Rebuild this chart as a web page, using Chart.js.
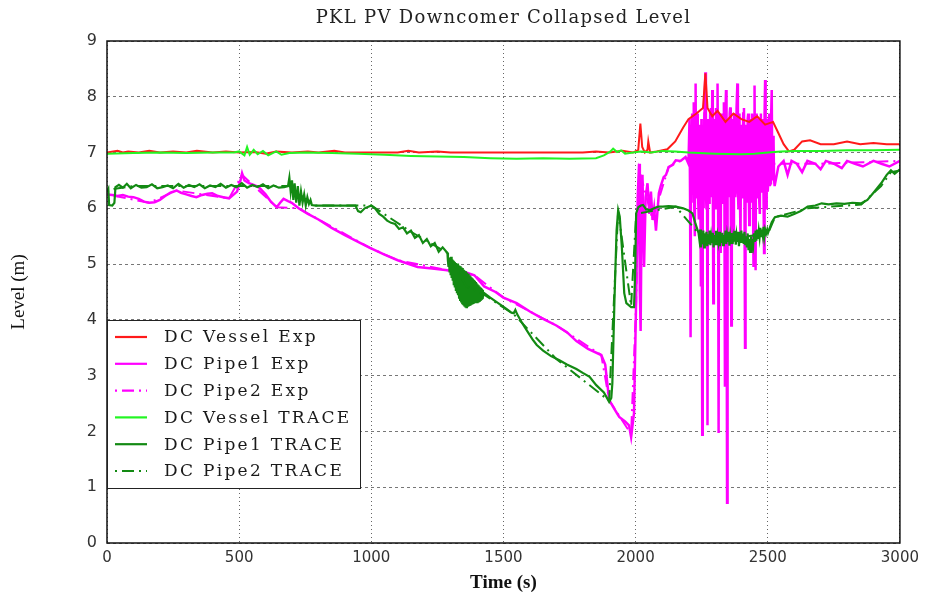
<!DOCTYPE html>
<html>
<head>
<meta charset="utf-8">
<title>PKL PV Downcomer Collapsed Level</title>
<script src="https://cdn.jsdelivr.net/npm/chart.js@4.4.1/dist/chart.umd.min.js"></script>
<style>
  html, body { margin: 0; padding: 0; background: #fff; }
</style>
</head>
<body>
<canvas id="levelChart" width="925" height="595"></canvas>
<script>
// [time (s), level (m)]
const vesselExp = [
  [0,7.0],[40,7.03],[60,7.0],[80,7.02],[120,7.0],[160,7.03],[200,7.0],[250,7.02],[300,7.0],[340,7.03],
  [400,7.0],[450,7.02],[500,7.0],[560,7.01],[600,6.98],[640,7.02],[700,7.0],[760,7.02],[800,7.0],[860,7.03],
  [900,7.0],[1000,7.0],[1100,7.0],[1140,7.03],[1180,7.0],[1250,7.02],[1300,7.0],[1400,7.0],[1500,7.0],
  [1600,7.0],[1700,7.0],[1800,7.0],[1850,7.02],[1900,7.0],[1950,7.03],[1990,7.0],[2010,7.05],[2018,7.52],
  [2025,7.1],[2035,7.0],[2045,7.05],[2048,7.2],[2055,7.0],[2080,7.02],[2120,7.06],[2150,7.2],[2180,7.45],
  [2200,7.6],[2230,7.7],[2255,7.8],[2264,8.42],[2272,7.8],[2290,7.65],[2310,7.75],[2340,7.55],[2370,7.7],
  [2400,7.6],[2430,7.55],[2460,7.65],[2490,7.5],[2520,7.55],[2540,7.35],[2560,7.15],[2580,7.02],[2600,7.05],
  [2630,7.2],[2660,7.22],[2700,7.15],[2750,7.15],[2800,7.2],[2850,7.15],[2900,7.17],[2950,7.15],[3000,7.15]
];

const pipe1Exp = [
  [0,6.25],[20,6.24],[40,6.22],[60,6.24],[80,6.21],[100,6.2],[120,6.17],[140,6.12],[160,6.1],[180,6.11],
  [200,6.15],[220,6.22],[240,6.28],[263,6.32],[280,6.28],[300,6.25],[320,6.22],[338,6.2],[360,6.24],[380,6.26],
  [398,6.27],[420,6.22],[440,6.2],[462,6.18],[480,6.25],[492,6.3],[505,6.5],[511,6.63],[520,6.5],[537,6.45],
  [555,6.42],[574,6.38],[600,6.25],[620,6.12],[642,6.02],[655,6.1],[668,6.17],[685,6.13],[699,6.1],[725,6.0],
  [760,5.9],[800,5.8],[850,5.65],[900,5.52],[950,5.4],[995,5.29],[1050,5.17],[1100,5.07],[1175,4.95],[1230,4.92],
  [1288,4.89],[1340,4.88],[1390,4.8],[1427,4.6],[1470,4.5],[1500,4.4],[1550,4.3],[1600,4.15],[1650,4.02],
  [1700,3.9],[1740,3.78],[1776,3.62],[1820,3.48],[1870,3.37],[1885,3.2],[1900,2.56],[1920,2.4],[1938,2.26],
  [1960,2.18],[1975,2.11],[1983,1.9],[1994,2.33],[2002,4.35],[2008,6.2],[2013,6.8],[2016,4.5],[2019,3.8],
  [2022,5.5],[2026,6.6],[2032,4.95],[2038,6.2],[2045,6.45],[2052,5.9],[2058,6.3],[2064,5.79],[2070,6.0],
  [2077,5.6],[2082,5.9],[2088,6.27],[2095,6.4],[2106,6.56],[2115,6.6],[2125,6.74],[2140,6.78],[2152,6.86],
  [2170,6.85],[2189,6.92],[2200,6.8],
  [2204,7.6],[2206,6.2],[2208,3.69],[2210,7.5],[2212,6.1],[2214,7.7],[2216,6.3],[2218,7.4],[2220,7.9],[2222,6.0],
  [2224,5.5],[2226,7.8],[2227,8.24],[2229,6.2],[2231,6.4],[2233,7.7],[2235,7.6],[2237,6.1],[2239,5.8],[2241,7.5],
  [2243,7.4],[2245,6.2],[2247,4.6],[2249,7.6],[2250,6.9],[2252,1.94],[2254,7.5],[2255,7.3],[2257,6.0],[2258,6.2],
  [2260,7.7],[2261,7.9],[2264,8.44],[2266,6.3],[2268,6.0],[2270,7.4],[2272,2.11],[2274,7.6],[2276,7.0],[2278,6.1],
  [2280,6.5],[2282,7.7],[2285,7.8],[2287,6.2],[2290,8.12],[2292,6.4],[2294,4.3],[2296,7.6],[2298,7.2],[2300,6.1],
  [2302,6.0],[2304,7.8],[2306,7.6],[2308,6.2],[2310,8.24],[2312,6.5],[2314,1.97],[2316,7.7],[2318,7.4],[2320,6.0],
  [2322,5.2],[2324,7.5],[2326,7.7],[2328,6.1],[2330,6.3],[2332,7.6],[2334,7.9],[2336,6.2],[2338,2.8],[2340,7.7],
  [2342,8.12],[2344,6.0],[2346,0.72],[2348,7.6],[2350,7.5],[2352,6.2],[2354,6.4],[2356,7.7],[2358,7.81],[2360,6.1],
  [2362,3.9],[2364,7.6],[2366,7.3],[2368,6.0],[2370,5.6],[2372,7.7],[2375,7.6],[2377,6.2],[2380,6.5],[2382,7.8],
  [2385,8.24],[2387,6.3],[2389,6.0],[2391,7.6],[2393,7.7],[2395,6.1],[2397,5.4],[2399,7.5],[2401,7.4],[2403,6.2],
  [2405,6.7],[2407,7.7],[2410,7.8],[2412,6.0],[2414,3.5],[2416,7.5],[2418,7.1],[2420,6.1],[2422,6.2],[2424,7.6],
  [2426,7.7],[2428,6.3],[2430,5.7],[2432,7.6],[2434,7.3],[2436,6.1],[2438,6.5],[2440,7.7],[2442,7.6],[2444,6.2],
  [2446,4.95],[2448,7.6],[2450,8.2],[2452,6.3],[2454,4.89],[2456,7.7],[2458,7.5],[2460,6.2],[2462,6.3],[2464,7.6],
  [2466,7.2],[2468,6.1],[2470,5.9],[2472,7.5],[2474,7.7],[2476,6.3],[2478,6.6],[2480,7.6],[2482,7.4],[2484,6.2],
  [2486,5.2],[2488,7.7],[2490,8.3],[2492,6.4],[2494,6.0],[2496,7.6],[2498,7.5],[2500,6.3],[2502,6.5],[2504,7.6],
  [2506,7.7],[2508,6.4],[2510,6.45],[2512,7.5],[2515,8.12],[2517,6.6],[2518,6.5],[2520,7.3],[2522,7.2],[2524,6.5],
  [2526,6.4],[2540,6.75],[2560,6.85],[2575,6.6],[2590,6.85],[2610,6.8],[2630,6.65],[2650,6.85],[2680,6.8],
  [2700,6.7],[2720,6.85],[2750,6.8],[2780,6.72],[2800,6.85],[2830,6.8],[2860,6.75],[2900,6.85],[2930,6.8],
  [2960,6.75],[3000,6.85]
];

const pipe2Exp = [
  [0,6.25],[160,6.1],[263,6.32],[462,6.18],[511,6.6],[642,6.02],[725,6.0],[995,5.29],[1100,5.07],[1288,4.89],
  [1390,4.8],[1500,4.4],[1700,3.9],[1870,3.37],[1900,2.56],[1983,1.95],[2002,4.3],[2013,6.7],[2064,5.8],
  [2125,6.74],[2189,6.9],[2300,6.9],[2400,6.85],[2520,6.8],[2700,6.8],[3000,6.85]
];

const vesselTrace = [
  [0,6.98],[100,6.99],[200,7.0],[300,6.99],[400,7.0],[480,7.0],[500,7.02],[520,6.95],[530,7.1],[540,6.96],
  [555,7.05],[570,6.97],[590,7.03],[610,6.95],[640,7.02],[660,6.96],[690,6.99],[750,7.0],[850,6.99],[950,6.98],
  [1050,6.96],[1150,6.94],[1250,6.93],[1350,6.92],[1450,6.9],[1550,6.89],[1650,6.9],[1750,6.89],[1850,6.9],
  [1880,6.95],[1905,7.02],[1915,7.07],[1930,7.01],[1945,7.04],[1960,6.98],[1990,7.0],[2020,7.02],[2060,7.0],
  [2100,7.03],[2150,7.02],[2200,7.0],[2300,6.98],[2400,6.97],[2450,6.98],[2500,7.0],[2550,7.02],[2600,7.03],
  [2700,7.03],[2800,7.04],[2900,7.04],[3000,7.05]
];

const pipe1Trace = [
  [0,6.3],[5,6.35],[8,6.06],[20,6.05],[28,6.1],[32,6.38],[45,6.42],[60,6.37],[75,6.44],[90,6.36],[110,6.42],
  [130,6.37],[150,6.38],[170,6.43],[190,6.36],[210,6.38],[230,6.41],[250,6.36],[270,6.44],[290,6.37],
  [310,6.42],[330,6.38],[350,6.43],[370,6.36],[390,6.41],[410,6.38],[430,6.44],[450,6.37],[470,6.42],
  [490,6.38],[510,6.45],[530,6.37],[550,6.42],[570,6.38],[590,6.43],[610,6.36],[630,6.41],[650,6.37],
  [670,6.38],[685,6.4],[690,6.55],[695,6.3],[700,6.5],[705,6.15],[710,6.45],[716,6.1],[722,6.4],[728,6.05],
  [734,6.3],[740,6.1],[746,6.25],[752,6.05],[758,6.2],[764,6.08],[770,6.15],[775,6.06],[790,6.05],[850,6.05],
  [940,6.05],[950,5.95],[960,5.93],[975,6.0],[1000,6.05],[1014,6.0],[1030,5.9],[1045,5.85],[1060,5.78],
  [1075,5.74],[1090,5.72],[1105,5.63],[1120,5.66],[1135,5.55],[1150,5.6],[1165,5.47],[1180,5.52],[1195,5.38],
  [1210,5.45],[1225,5.32],[1240,5.38],[1255,5.22],[1270,5.3],[1288,5.2],
  [1290,5.05],[1292,4.95],[1294,5.12],[1296,4.85],[1298,5.1],[1300,4.8],[1302,5.13],[1304,4.75],[1306,5.08],
  [1308,4.7],[1310,5.06],[1312,4.62],[1314,5.04],[1316,4.58],[1318,5.02],[1320,4.52],[1322,5.0],[1324,4.48],
  [1326,5.01],[1328,4.44],[1330,4.98],[1332,4.4],[1334,4.97],[1336,4.36],[1338,4.96],[1340,4.33],[1342,4.94],
  [1344,4.3],[1346,4.93],[1348,4.28],[1350,4.9],[1352,4.26],[1354,4.88],[1356,4.24],[1358,4.87],[1360,4.23],
  [1362,4.85],[1364,4.23],[1366,4.83],[1368,4.24],[1370,4.8],[1372,4.25],[1374,4.78],[1376,4.26],[1378,4.76],
  [1380,4.27],[1382,4.74],[1384,4.28],[1386,4.72],[1388,4.29],[1390,4.7],[1392,4.3],[1394,4.68],[1396,4.31],
  [1398,4.66],[1400,4.32],[1402,4.64],[1404,4.33],[1406,4.62],[1408,4.34],[1410,4.6],[1412,4.36],[1414,4.58],
  [1416,4.38],[1418,4.56],[1420,4.4],[1422,4.54],[1424,4.44],[1427,4.48],
  [1450,4.4],[1480,4.3],[1510,4.2],[1530,4.13],[1539,4.12],[1545,4.18],[1552,4.1],[1570,3.95],[1590,3.8],
  [1610,3.65],[1626,3.55],[1650,3.45],[1680,3.35],[1710,3.28],[1740,3.2],[1776,3.12],[1800,3.05],[1826,2.98],
  [1851,2.83],[1880,2.7],[1900,2.53],[1908,2.6],[1912,2.86],[1920,4.35],[1928,5.6],[1934,5.97],[1940,5.85],
  [1948,5.3],[1957,4.48],[1965,4.3],[1983,4.23],[1994,4.23],[1998,4.8],[2002,5.91],[2010,6.02],[2020,6.05],
  [2028,6.06],[2040,5.98],[2055,5.97],[2070,6.0],[2085,6.03],[2103,6.03],[2125,6.04],[2152,6.03],[2180,6.0],
  [2200,5.96],[2215,5.91],[2225,5.75],[2238,5.56],
  [2241,5.45],[2244,5.62],[2247,5.3],[2250,5.5],[2253,5.36],[2256,5.6],[2259,5.3],[2262,5.55],[2265,5.35],
  [2268,5.58],[2271,5.32],[2274,5.52],[2277,5.36],[2280,5.6],[2283,5.34],[2286,5.5],[2289,5.38],[2292,5.56],
  [2295,5.3],[2298,5.52],[2301,5.36],[2304,5.6],[2307,5.34],[2310,5.5],[2313,5.4],[2316,5.58],[2319,5.32],
  [2322,5.5],[2325,5.38],[2328,5.56],[2331,5.34],[2334,5.52],[2337,5.4],[2340,5.6],[2343,5.36],[2346,5.52],
  [2349,5.4],[2352,5.58],[2355,5.33],[2358,5.5],[2361,5.38],[2364,5.56],[2367,5.36],[2370,5.5],[2373,5.42],
  [2376,5.6],[2379,5.35],[2382,5.52],[2385,5.4],[2388,5.58],[2391,5.32],[2394,5.5],[2397,5.38],[2400,5.6],
  [2403,5.4],[2406,5.55],[2409,5.36],[2412,5.58],[2415,5.34],[2418,5.5],[2421,5.3],[2424,5.55],[2427,5.25],
  [2430,5.45],[2433,5.22],[2436,5.5],[2439,5.2],[2442,5.45],[2445,5.35],[2448,5.55],[2451,5.4],[2454,5.6],
  [2457,5.42],[2460,5.62],[2463,5.45],[2466,5.6],[2469,5.48],[2472,5.65],[2475,5.5],[2478,5.62],[2481,5.52],
  [2484,5.67],[2487,5.5],[2490,5.62],[2494,5.55],[2498,5.62],[2501,5.56],
  [2515,5.75],[2527,5.84],[2550,5.87],[2575,5.85],[2600,5.9],[2625,5.95],[2651,6.03],[2680,6.05],[2704,6.09],
  [2730,6.07],[2760,6.09],[2790,6.08],[2820,6.1],[2854,6.09],[2877,6.15],[2900,6.28],[2929,6.45],[2950,6.6],
  [2966,6.68],[2980,6.62],[3000,6.7]
];

const pipe2Trace = [
  [0,6.3],[30,6.35],[100,6.4],[300,6.4],[500,6.4],[690,6.4],[780,6.05],[1000,6.05],[1150,5.58],[1288,5.2],
  [1360,4.6],[1427,4.45],[1539,4.1],[1700,3.3],[1900,2.55],[1934,5.95],[1983,4.25],[2002,5.9],[2152,6.03],
  [2238,5.55],[2350,5.45],[2501,5.55],[2527,5.84],[2651,6.0],[2854,6.07],[2929,6.4],[2966,6.65],[3000,6.68]
];

const seriesLabels = ['DC Vessel Exp', 'DC Pipe1 Exp', 'DC Pipe2 Exp', 'DC Vessel TRACE', 'DC Pipe1 TRACE', 'DC Pipe2 TRACE'];
const seriesData = [vesselExp, pipe1Exp, pipe2Exp, vesselTrace, pipe1Trace, pipe2Trace];
const seriesColors = ['#ff1a1a', '#ff00ff', '#ff00ff', '#22f522', '#138a13', '#138a13'];
const seriesDash = [[], [], [2, 5, 12, 5], [], [], [2, 5, 12, 5]];
const seriesWidth = [2, 2.5, 2, 2, 2.2, 2];
// lower order is drawn on top: magenta at the bottom, then red, then the TRACE lines
const seriesOrder = [4, 6, 5, 3, 2, 1];

const timeTicks = [0, 500, 1000, 1500, 2000, 2500, 3000];
const levelTicks = [0, 1, 2, 3, 4, 5, 6, 7, 8, 9];
const chartTitle = 'PKL PV Downcomer Collapsed Level';

// title centred over the plot area
const plotTitle = {
    id: 'plotTitle',
    afterDraw(chart) {
        const {ctx, chartArea: a} = chart;
        ctx.save();
        ctx.font = '18px "DejaVu Serif"';
        ctx.letterSpacing = '1.3px';
        ctx.fillStyle = '#222';
        ctx.textAlign = 'center';
        ctx.textBaseline = 'middle';
        ctx.fillText(chartTitle, (a.left + a.right) / 2, 18);
        ctx.restore();
    }
};

// box around plot area
const frame = {
    id: 'frame',
    afterDatasetsDraw(chart) {
        const {ctx, chartArea: a} = chart;
        ctx.save();
        ctx.strokeStyle = '#111';
        ctx.lineWidth = 1.5;
        ctx.strokeRect(a.left, a.top, a.right - a.left, a.bottom - a.top);
        ctx.restore();
    }
};

// legend box in lower left corner
const legendBox = {
    id: 'legendBox',
    afterDraw(chart) {
        const {ctx, chartArea: a} = chart;
        const x0 = a.left, y1 = a.bottom - 55, y0 = y1 - 168, w = 253;
        ctx.save();
        ctx.fillStyle = '#fff';
        ctx.fillRect(x0, y0, w, y1 - y0);
        ctx.strokeStyle = '#222';
        ctx.lineWidth = 1;
        ctx.strokeRect(x0 + 0.5, y0 + 0.5, w, y1 - y0);
        ctx.font = '17px "DejaVu Serif"';
        ctx.letterSpacing = '2.3px';
        ctx.textBaseline = 'middle';
        chart.data.datasets.forEach((ds, i) => {
            const y = y0 + 17 + i * 26.8;
            ctx.strokeStyle = ds.borderColor;
            ctx.lineWidth = 2.2;
            ctx.setLineDash(ds.borderDash || []);
            ctx.beginPath();
            ctx.moveTo(x0 + 8, y);
            ctx.lineTo(x0 + 40, y);
            ctx.stroke();
            ctx.setLineDash([]);
            ctx.fillStyle = '#1a1a1a';
            ctx.fillText(ds.label, x0 + 57, y + 1);
        });
        ctx.restore();
    }
};

new Chart(document.getElementById('levelChart'), {
    type: 'line',
    data: {
        datasets: seriesLabels.map((label, i) => ({
            label: label,
            data: seriesData[i].map(p => ({x: p[0], y: p[1]})),
            borderColor: seriesColors[i],
            borderDash: seriesDash[i],
            borderWidth: seriesWidth[i],
            pointRadius: 0,
            tension: 0,
            fill: false,
            order: seriesOrder[i]
        }))
    },
    options: {
        responsive: false,
        animation: false,
        layout: { padding: { left: 0, right: 20, top: 41, bottom: 0 } },
        plugins: {
            legend: { display: false },
            tooltip: { enabled: false },
            title: { display: false }
        },
        scales: {
            x: {
                type: 'linear',
                min: 0,
                max: 3000,
                afterBuildTicks: s => { s.ticks = timeTicks.map(v => ({value: v})); },
                afterFit: s => { s.height = 52; },
                grid: { color: '#666', drawTicks: false, lineWidth: 1 },
                border: { display: false, dash: [1, 3] },
                ticks: { color: '#333', padding: 6, font: { family: '"DejaVu Sans"', size: 15 }, maxRotation: 0,
                         callback: v => String(v) },
                title: {
                    display: true,
                    text: 'Time (s)',
                    color: '#111',
                    font: { family: '"Liberation Serif"', size: 19, weight: 'bold' },
                    padding: { top: 0, bottom: 1 }
                }
            },
            y: {
                min: 0,
                max: 9,
                afterBuildTicks: s => { s.ticks = levelTicks.map(v => ({value: v})); },
                afterFit: s => { s.width = 107; },
                grid: { color: '#777', drawTicks: false, lineWidth: 1 },
                border: { display: false, dash: [3, 3] },
                ticks: { color: '#333', padding: 10, font: { family: '"DejaVu Sans"', size: 16 },
                         callback: v => String(v) },
                title: {
                    display: true,
                    text: 'Level (m)',
                    color: '#111',
                    font: { family: '"Liberation Serif"', size: 19, weight: 'normal' },
                    padding: { top: 8, bottom: 0 }
                }
            }
        }
    },
    plugins: [frame, legendBox, plotTitle]
});
</script>
</body>
</html>
